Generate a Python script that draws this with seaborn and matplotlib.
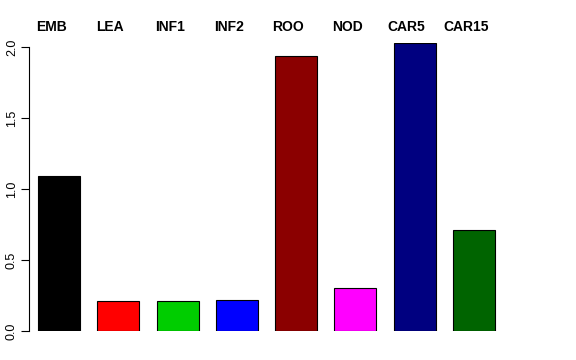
import matplotlib
matplotlib.use("Agg")
import matplotlib.pyplot as plt
import matplotlib.transforms as mtransforms
import seaborn as sns

# tissue samples and their bar heights
tissues = ["EMB", "LEA", "INF1", "INF2", "ROO", "NOD", "CAR5", "CAR15"]
values = [1.09, 0.21, 0.21, 0.22, 1.94, 0.30, 2.03, 0.71]
colors = ["#000000", "#FF0000", "#00CD00", "#0000FF",
          "#8B0000", "#FF00FF", "#000080", "#006400"]

sns.set_style("white")
plt.rcParams["font.family"] = ["Liberation Sans", "DejaVu Sans"]
plt.rcParams["text.color"] = "black"
plt.rcParams["ytick.color"] = "black"

fig = plt.figure(figsize=(5.76, 3.6), dpi=100)
ax = fig.add_axes([29 / 576, 29 / 360, (545 - 29) / 576, 288 / 360])

sns.barplot(x=tissues, y=values, hue=tissues, palette=colors, width=0.71,
            edgecolor="black", linewidth=0.8, saturation=1, legend=False, ax=ax)

ax.set_xlim(-0.507, 8.2)
ax.set_ylim(0, 2.03)

# labels above the bars
trans = mtransforms.blended_transform_factory(ax.transData, ax.transAxes)
for i, name in enumerate(tissues):
    ax.text(i - 0.135, 1.056, name, transform=trans, ha="center", va="center",
            fontsize=10, fontweight="bold", color="black", clip_on=False)

# R-style y axis
for side in ["top", "right", "bottom"]:
    ax.spines[side].set_visible(False)
ax.spines["left"].set_bounds(0, 2)
ax.spines["left"].set_color("black")
ax.spines["left"].set_linewidth(0.8)
ax.set_yticks([0.0, 0.5, 1.0, 1.5, 2.0])
ax.set_yticklabels(["0.0", "0.5", "1.0", "1.5", "2.0"], rotation=90, va="center")
ax.tick_params(axis="y", left=True, length=6, width=0.8, labelsize=9, pad=2,
               color="black", labelcolor="black")
ax.set_xticks([])
ax.set_xlabel("")
ax.set_ylabel("")

fig.savefig("out.png", dpi=100)
